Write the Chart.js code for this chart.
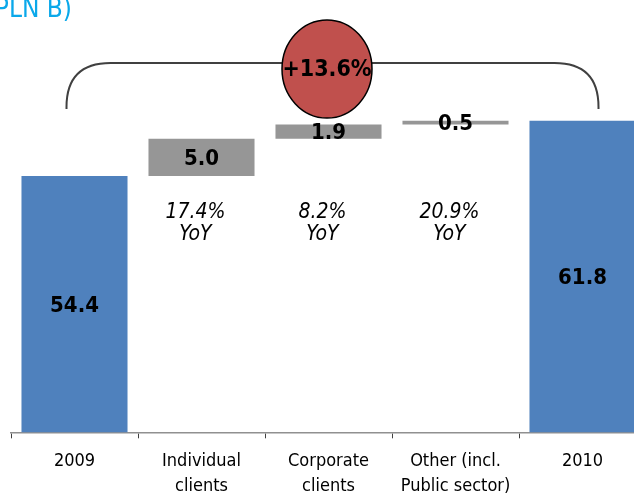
<!DOCTYPE html>
<html>
<head>
<meta charset="utf-8">
<script src="https://cdn.jsdelivr.net/npm/chart.js@4"></script>
<style>
  html, body { margin: 0; padding: 0; background: #fff; overflow: hidden; }
  #wrap { position: relative; width: 634px; height: 494px; overflow: hidden; }
</style>
</head>
<body>
<div id="wrap"><canvas id="myChart" width="646" height="510"></canvas></div>
<script>
// waterfall: 2009 -> growth by segment -> 2010 (PLN B)
var categories = ['2009', ['Individual', 'clients'], ['Corporate', 'clients'], ['Other (incl.', 'Public sector)'], '2010'];
var startTotal = 54.4;
var changes = [5.0, 1.9, 0.5];
var endTotal = 61.8;
var yoyLabels = ['', '17.4%', '8.2%', '20.9%', ''];
var growthLabel = '+13.6%';

var FONT = '"DejaVu Sans Condensed", "DejaVu Sans", sans-serif';
var blue = '#4F81BD';
var grey = '#969696';

// floating bars: totals start at the axis, changes stack on top of each other
var ranges = [[0, startTotal]];
var labels = [startTotal.toFixed(1)];
var run = startTotal;
changes.forEach(function (c) {
  ranges.push([run, run + c]);
  labels.push(c.toFixed(1));
  run += c;
});
ranges.push([0, endTotal]);
labels.push(endTotal.toFixed(1));
var colors = ranges.map(function (r, i) {
  return (i === 0 || i === ranges.length - 1) ? blue : grey;
});

var extras = {
  id: 'extras',
  afterDatasetsDraw: function (chart) {
    var ctx = chart.ctx;
    var meta = chart.getDatasetMeta(0);
    var yScale = chart.scales.y;
    var area = chart.chartArea;
    ctx.save();

    // values inside bars
    ctx.fillStyle = '#000';
    ctx.textAlign = 'center';
    ctx.textBaseline = 'middle';
    ctx.font = 'bold 22px ' + FONT;
    meta.data.forEach(function (bar, i) {
      var top = bar.y;
      var bottom = Math.min(bar.base, area.bottom);
      ctx.fillText(labels[i], bar.x, (top + bottom) / 2 + 2);
    });

    // YoY growth under the segment bars
    ctx.font = 'italic 21px ' + FONT;
    var yoyY = yScale.getPixelForValue(startTotal) + 37;
    meta.data.forEach(function (bar, i) {
      if (!yoyLabels[i]) return;
      ctx.fillText(yoyLabels[i], bar.x - 6, yoyY);
      ctx.fillText('YoY', bar.x - 6, yoyY + 22);
    });

    // bracket over the whole bridge
    var first = meta.data[0];
    var last = meta.data[meta.data.length - 1];
    var left = first.x - 8, right = last.x + 16;
    var topY = 63, endY = 109, r = 44;
    ctx.strokeStyle = '#404040';
    ctx.lineWidth = 2;
    ctx.beginPath();
    ctx.moveTo(left, endY);
    ctx.lineTo(left, topY + r);
    ctx.quadraticCurveTo(left, topY, left + r, topY);
    ctx.lineTo(right - r, topY);
    ctx.quadraticCurveTo(right, topY, right, topY + r);
    ctx.lineTo(right, endY);
    ctx.stroke();

    // growth bubble
    var cx = (meta.data[2].x + meta.data[1].x) / 2 + 62, cy = 69;
    ctx.beginPath();
    ctx.ellipse(cx, cy, 45, 49, 0, 0, Math.PI * 2);
    ctx.fillStyle = '#C0504D';
    ctx.fill();
    ctx.lineWidth = 1.5;
    ctx.strokeStyle = '#000';
    ctx.stroke();
    ctx.fillStyle = '#000';
    ctx.font = 'bold 23px ' + FONT;
    ctx.fillText(growthLabel, cx, cy + 1);

    // heading, cut at the left edge
    ctx.textAlign = 'right';
    ctx.textBaseline = 'alphabetic';
    ctx.fillStyle = '#0AA8EA';
    ctx.font = '26px ' + FONT;
    ctx.fillText('PLN B)', 72, 17);
    ctx.restore();
  }
};

var ctx = document.getElementById('myChart').getContext('2d');
var myChart = new Chart(ctx, {
  type: 'bar',
  data: {
    labels: categories,
    datasets: [{
      data: ranges,
      backgroundColor: colors,
      borderWidth: 0,
      barPercentage: 0.835,
      categoryPercentage: 1
    }]
  },
  options: {
    responsive: false,
    animation: false,
    layout: { padding: { left: 11, right: 0, top: 0, bottom: 0 } },
    plugins: {
      legend: { display: false },
      tooltip: { enabled: false }
    },
    scales: {
      x: {
        grid: { drawOnChartArea: false, drawTicks: true, tickLength: 6, color: '#404040', lineWidth: 1 },
        border: { color: '#909090', width: 1.5 },
        ticks: { color: '#000', padding: 11, font: { family: FONT, size: 18, lineHeight: 1.38 } }
      },
      y: {
        display: false,
        min: 20,
        max: 78
      }
    }
  },
  plugins: [extras]
});
</script>
</body>
</html>
